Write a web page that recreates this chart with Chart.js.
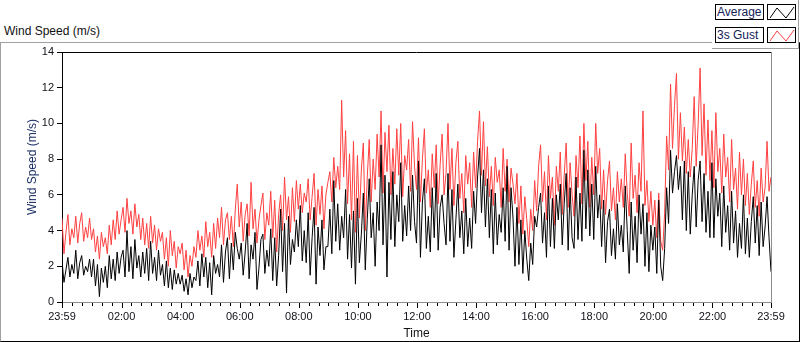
<!DOCTYPE html>
<html>
<head>
<meta charset="utf-8">
<script src="https://cdn.jsdelivr.net/npm/chart.js@4.4.1/dist/chart.umd.min.js"></script>
<style>
  body { margin: 0; background: #fff; }
  #wrap { position: relative; width: 800px; height: 342px; font-family: "Liberation Sans", Arial, sans-serif; }
  #frame { position: absolute; left: 0; top: 42px; width: 798px; height: 298px;
           border-top: 1px solid #a0a0a0; border-left: 1px solid #a0a0a0;
           border-right: 1px solid #000; border-bottom: 1px solid #000; }
  #title { position: absolute; left: 4px; top: 24px; font-size: 12px; line-height: 14px; color: #111; }
  #ytitle { position: absolute; left: -28px; top: 160px; width: 120px; text-align: center; font-size: 12px;
            line-height: 14px; color: #1c2f63; transform: rotate(-90deg); z-index: 2; }
  #legend { position: absolute; left: 712px; top: 0; width: 86px; height: 48px; background: #fff;
            border-right: 1px solid #a0a0a0; border-bottom: 1px solid #a0a0a0; }
  .lbl { position: absolute; left: 3px; width: 46px; height: 14px; border: 1px solid #000;
         font-size: 12px; line-height: 14px; color: #13225a; padding-left: 1px; box-sizing: content-box; }
  .sw { position: absolute; left: 55px; width: 27px; height: 14px; border: 1px solid #000; }
  canvas { position: absolute; left: 0; top: 0; }
</style>
</head>
<body>
<div id="wrap">
  <div id="frame"></div>
  <div id="title">Wind Speed (m/s)</div>
  <div id="legend">
    <div class="lbl" style="top:4px">Average</div>
    <svg class="sw" style="top:4px" width="27" height="14"><polyline points="2,13 9,3 18,13 26,2" fill="none" stroke="#000" stroke-width="1"/></svg>
    <div class="lbl" style="top:27px">3s Gust</div>
    <svg class="sw" style="top:27px" width="27" height="14"><polyline points="2,13 9,3 18,13 26,2" fill="none" stroke="#ff4040" stroke-width="1"/></svg>
  </div>
  <canvas id="c" width="800" height="342"></canvas>
  <div id="ytitle">Wind Speed (m/s)</div>
</div>
<script>
// minutes between samples, starting 23:59 (one row = one hour)
var sampleStep = 4

var timeLabels = ['23:59', '02:00', '04:00', '06:00', '08:00', '10:00', '12:00', '14:00', '16:00', '18:00', '20:00', '22:00', '23:59']
var labelMinutes = [0, 121, 241, 361, 481, 601, 721, 841, 961, 1081, 1201, 1321, 1440]
var yTicks = [0, 2, 4, 6, 8, 10, 12, 14]

var averageMs = [
    2.3, 1.1, 1.8, 2.5, 1.4, 2.1, 1.6, 2.9, 1.3, 2.2, 2.6, 1.5, 2.0, 1.7, 2.4,
    1.4, 2.4, 0.9, 2.1, 0.3, 1.9, 1.1, 2.0, 0.8, 2.6, 1.3, 2.4, 1.2, 2.8, 1.6,
    2.5, 2.9, 1.4, 4.0, 1.7, 3.1, 1.3, 3.5, 1.9, 2.6, 1.4, 2.8, 1.6, 3.0, 1.2,
    3.4, 1.6, 2.5, 1.2, 2.9, 1.5, 2.1, 0.9, 2.3, 0.8, 1.9, 0.7, 1.8, 1.0, 1.6,
    1.0, 1.5, 0.6, 1.3, 0.4, 1.6, 0.8, 1.4, 1.2, 2.3, 0.9, 2.7, 1.4, 2.5, 0.8,
    2.2, 0.4, 2.6, 1.6, 2.1, 1.4, 3.2, 1.1, 2.8, 3.6, 1.3, 3.3, 1.8, 3.9, 3.0,
    2.4, 3.3, 1.5, 2.8, 4.4, 1.3, 3.2, 2.4, 3.9, 0.7, 1.9, 3.5, 3.8, 1.6, 2.9,
    2.0, 4.1, 1.2, 3.6, 0.9, 2.6, 5.2, 1.7, 4.4, 0.5, 4.8, 2.1, 3.5, 2.8, 4.6,
    3.1, 5.4, 2.3, 4.0, 2.2, 5.0, 1.5, 3.6, 5.3, 1.0, 4.2, 2.6, 4.6, 1.8, 3.1,
    3.1, 5.2, 2.7, 6.8, 3.4, 5.5, 2.9, 4.8, 3.6, 6.3, 2.4, 4.9, 1.9, 5.1, 1.0,
    5.8, 2.2, 3.8, 6.1, 1.8, 4.6, 6.9, 3.6, 5.0, 2.0, 5.6, 4.0, 8.8, 3.2, 7.1,
    1.4, 6.7, 3.5, 7.3, 3.1, 6.0, 4.5, 7.8, 3.4, 5.4, 3.7, 6.5, 4.0, 7.1, 4.5,
    3.3, 7.9, 2.5, 5.6, 6.9, 3.0, 4.8, 2.8, 6.4, 3.6, 7.2, 2.9, 5.3, 6.0, 4.4,
    3.2, 7.2, 3.4, 6.3, 2.5, 4.6, 6.6, 3.6, 5.1, 2.7, 5.8, 3.1, 4.7, 3.0, 6.2,
    4.4, 7.0, 8.6, 5.0, 7.4, 4.2, 6.9, 3.6, 6.3, 2.7, 6.1, 3.2, 4.9, 3.9, 6.4,
    3.4, 7.6, 2.9, 6.4, 4.7, 2.0, 5.3, 2.1, 4.6, 1.6, 4.0, 2.4, 1.2, 3.3, 2.1,
    4.8, 4.2, 5.3, 6.1, 3.3, 5.0, 2.5, 6.5, 3.1, 5.8, 3.0, 6.0, 4.6, 6.6, 3.2,
    5.5, 7.2, 2.9, 6.4, 3.6, 3.0, 7.0, 3.5, 6.1, 3.4, 8.5, 4.1, 7.4, 3.7, 6.6,
    3.5, 7.6, 4.7, 6.0, 3.1, 5.7, 2.2, 4.5, 5.2, 2.6, 4.1, 2.4, 5.5, 3.2, 4.3,
    2.8, 6.5, 4.0, 1.6, 5.6, 2.9, 4.8, 2.2, 6.0, 3.8, 5.5, 2.0, 5.0, 1.7, 4.3,
    2.9, 4.2, 1.6, 5.7, 2.0, 1.2, 3.0, 6.4, 4.4, 8.5, 6.1, 7.3, 8.2, 6.3, 7.6,
    4.6, 7.9, 4.0, 7.3, 3.8, 6.0, 7.6, 4.2, 6.8, 7.9, 4.5, 7.2, 3.9, 6.2, 3.6,
    7.8, 3.6, 6.9, 4.8, 6.1, 3.1, 6.5, 3.9, 5.4, 2.9, 6.2, 3.3, 5.1, 2.5, 4.4,
    3.0, 6.0, 2.7, 4.7, 2.5, 4.5, 5.9, 3.3, 5.4, 2.6, 5.6, 3.1, 4.2, 5.9, 3.6, 1.7
]

var gustMs = [
    4.7, 2.7, 3.9, 4.9, 3.2, 4.1, 3.6, 4.8, 3.3, 4.4, 5.0, 3.4, 4.2, 3.6, 4.7,
    3.5, 4.1, 2.8, 3.7, 2.4, 3.9, 3.1, 3.6, 2.7, 4.3, 3.2, 4.6, 3.5, 5.1, 3.8,
    4.6, 5.3, 3.9, 5.8, 4.4, 5.1, 3.8, 5.5, 4.2, 4.9, 3.5, 4.7, 3.2, 4.4, 3.0,
    4.8, 3.3, 4.3, 2.9, 4.1, 3.4, 3.9, 2.4, 3.6, 2.0, 4.0, 2.6, 3.4, 1.9, 3.1,
    2.7, 3.3, 1.8, 2.9, 1.4, 2.6, 2.0, 3.1, 2.5, 4.0, 2.9, 3.7, 2.5, 4.5, 3.1,
    3.9, 2.5, 4.4, 3.0, 4.7, 3.6, 5.3, 3.2, 4.6, 5.0, 3.5, 4.8, 3.1, 5.2, 6.6,
    4.2, 5.6, 3.4, 4.9, 5.5, 3.7, 6.7, 4.1, 5.2, 3.3, 4.6, 5.4, 6.1, 3.5, 5.0,
    4.3, 6.2, 3.6, 5.7, 2.8, 4.9, 6.0, 4.0, 7.0, 4.6, 5.9, 3.9, 6.4, 4.5, 6.8,
    5.2, 6.6, 5.0, 6.1, 5.6, 6.9, 4.6, 5.9, 7.2, 4.3, 6.3, 4.9, 6.5, 4.1, 6.0,
    6.7, 7.3, 5.6, 8.1, 6.4, 7.6, 6.3, 11.3, 7.0, 9.6, 5.5, 8.3, 4.6, 9.0, 3.9,
    8.2, 4.7, 7.4, 8.9, 4.0, 7.0, 9.1, 5.6, 8.0, 6.3, 9.4, 7.0, 10.7, 6.1, 9.5,
    7.3, 9.9, 6.0, 8.6, 6.6, 9.7, 7.1, 10.0, 5.9, 8.2, 7.4, 9.1, 6.2, 10.1, 7.6,
    6.3, 9.2, 5.6, 8.0, 9.7, 6.1, 7.4, 5.3, 8.3, 6.4, 8.8, 5.5, 7.7, 9.4, 6.0,
    7.2, 10.0, 6.3, 8.6, 5.4, 7.8, 9.0, 5.8, 7.2, 5.0, 8.2, 6.6, 7.8, 5.3, 8.4,
    6.4, 9.0, 10.7, 7.1, 10.1, 6.5, 8.7, 5.9, 7.6, 5.4, 8.1, 6.7, 7.4, 5.3, 8.6,
    6.2, 8.0, 5.6, 7.5, 6.6, 5.5, 7.2, 4.4, 6.5, 3.8, 5.9, 4.6, 3.1, 5.2, 4.0,
    6.8, 5.1, 7.6, 8.8, 5.6, 7.3, 4.6, 8.2, 5.8, 7.0, 4.3, 7.6, 6.2, 8.4, 4.9,
    7.1, 8.9, 5.3, 7.8, 6.0, 4.8, 8.2, 6.4, 9.3, 5.5, 10.0, 6.8, 9.0, 5.3, 8.1,
    6.0, 10.0, 7.2, 8.6, 5.2, 7.4, 4.9, 6.8, 7.9, 5.1, 6.4, 4.6, 7.3, 5.6, 6.9,
    5.3, 8.3, 6.1, 4.8, 8.9, 5.8, 7.1, 5.0, 7.8, 6.2, 10.7, 5.4, 6.8, 4.5, 6.2,
    4.3, 5.7, 3.6, 6.1, 3.4, 2.9, 5.0, 9.3, 7.4, 12.2, 8.6, 11.0, 12.8, 8.0, 10.6,
    7.9, 9.8, 7.2, 9.1, 7.0, 8.6, 11.5, 7.6, 9.9, 13.1, 8.2, 11.1, 7.1, 10.2, 6.8,
    9.6, 6.4, 10.6, 7.3, 8.6, 6.1, 9.4, 7.0, 8.1, 5.6, 9.1, 6.3, 7.5, 5.2, 8.4,
    6.0, 8.0, 5.4, 7.2, 4.9, 6.6, 7.9, 5.3, 6.8, 4.8, 7.5, 5.6, 6.4, 9.0, 6.2, 7.0
]

function toPoints(arr) {
    return arr.map((v, i) => ({ x: i * sampleStep, y: v }))
}

// x tick marks: minor every 20 min, major at the labelled times
var xTickMarks = {
    id: 'xTickMarks',
    afterDraw(chart) {
        var s = chart.scales.x
        var a = chart.chartArea
        var ctx = chart.ctx
        ctx.save()
        ctx.lineWidth = 1
        ctx.strokeStyle = '#000'
        s.ticks.forEach(t => {
            var px = Math.round(s.getPixelForValue(t.value)) + 0.5
            var len = labelMinutes.includes(t.value) ? 5 : 3
            ctx.beginPath()
            ctx.moveTo(px, a.bottom + 1)
            ctx.lineTo(px, a.bottom + 1 + len)
            ctx.stroke()
        })
        // top (black) and right (grey) edges of the plot
        ctx.beginPath()
        ctx.moveTo(a.left, Math.round(a.top) + 0.5)
        ctx.lineTo(a.right, Math.round(a.top) + 0.5)
        ctx.stroke()
        ctx.strokeStyle = '#8c8c8c'
        ctx.beginPath()
        ctx.moveTo(Math.round(a.right) + 0.5, a.top)
        ctx.lineTo(Math.round(a.right) + 0.5, a.bottom + 1)
        ctx.stroke()
        ctx.restore()
    }
}

Chart.defaults.font.family = '"Liberation Sans", Arial, sans-serif'
Chart.defaults.font.size = 11
Chart.defaults.color = '#101018'

const ctx = document.getElementById('c')
const myChart = new Chart(ctx, {
    type: 'line',
    data: {
        datasets: [{
            label: 'Average',
            data: toPoints(averageMs),
            borderColor: '#000',
            borderWidth: 1,
            pointRadius: 0,
            tension: 0
        }, {
            label: '3s Gust',
            data: toPoints(gustMs),
            borderColor: '#ff4040',
            borderWidth: 1,
            pointRadius: 0,
            tension: 0
        }]
    },
    options: {
        responsive: false,
        animation: false,
        events: [],
        layout: { padding: { top: 52, right: 29, left: 0, bottom: 0 } },
        plugins: { legend: { display: false }, title: { display: false }, tooltip: { enabled: false } },
        scales: {
            x: {
                type: 'linear',
                min: 0,
                max: 1440,
                grid: { display: false, drawTicks: false },
                border: { color: '#8c8c8c', width: 1 },
                afterBuildTicks: s => {
                    var t = [0]
                    for (var m = 21; m < 1440; m += 20) t.push(m)
                    t.push(1440)
                    s.ticks = t.map(v => ({ value: v }))
                },
                afterFit: s => { s.height = 40 },
                ticks: {
                    autoSkip: false,
                    maxRotation: 0,
                    padding: 8,
                    callback: v => {
                        var k = labelMinutes.indexOf(v)
                        return k >= 0 ? timeLabels[k] : ''
                    }
                },
                title: { display: true, text: 'Time', font: { size: 12 }, color: '#111', padding: { top: 0, bottom: 1 } }
            },
            y: {
                min: 0,
                max: 14,
                afterBuildTicks: s => { s.ticks = yTicks.map(v => ({ value: v })) },
                afterFit: s => { s.width = 62 },
                grid: { drawOnChartArea: false, tickLength: 5, color: '#000' },
                border: { color: '#000', width: 1 },
                ticks: { padding: 3 }
            }
        }
    },
    plugins: [xTickMarks]
})
</script>
</body>
</html>
